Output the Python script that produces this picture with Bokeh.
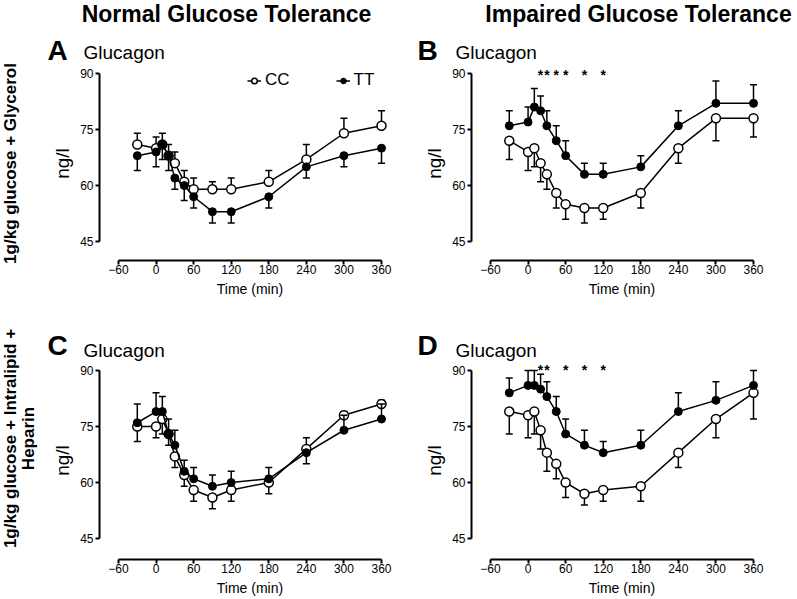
import numpy as np
from bokeh.plotting import figure
from bokeh.models import Range1d, Label, Legend, LegendItem, FixedTicker, ColumnDataSource
from bokeh.layouts import column, row
from bokeh.embed import file_html
from bokeh.resources import INLINE
from bokeh.core.properties import value

# ---------------- data ----------------
TIME = [-30, 0, 10, 20, 30, 45, 60, 90, 120, 180, 240, 300, 360]
X_TICKS = [-60, 0, 60, 120, 180, 240, 300, 360]
Y_TICKS = [45, 60, 75, 90]

# error values: magnitude of SEM, sign gives the drawn direction (+ up, - down)
A_CC = [71, 70, 71, 68, 66, 61, 59, 59, 59, 61, 67, 74, 76]
A_CC_ERR = [3, 3, 3, 3, 3, 3, 3, 2, 3, 3, 4, 4, 4]
A_TT = [68, 69, 71, 68, 62, 60, 57, 53, 53, 57, 65, 68, 70]
A_TT_ERR = [-4, -4, -4, -4, -3, -4, -3, -3, -3, -3, -3, -3, -4]

B_CC = [72, 69, 70, 66, 63, 58, 55, 54, 54, 58, 70, 78, 78]
B_CC_ERR = [-5, -5, -5, -5, -4, -4, -4, -4, -3, -4, -4, -6, -5]
B_TT = [76, 77, 81, 80, 76, 72, 68, 63, 63, 65, 76, 82, 82]
B_TT_ERR = [4, 4, 5, 4, 4, 4, 4, 3, 3, 3, 4, 6, 5]

C_CC = [75, 75, 77, 73, 67, 62, 58, 56, 58, 60, 69, 78, 81]
C_CC_ERR = [-4, -3, -4, -3, -3, -3, -3, -3, -3, -3, 3, 1, 1]
C_TT = [76, 79, 79, 73, 70, 63, 61, 59, 60, 61, 68, 74, 77]
C_TT_ERR = [5, 5, 4, 4, 4, 3, 3, 3, 3, 3, -3, 4, 4]

D_CC = [79, 78, 79, 74, 68, 65, 60, 57, 58, 59, 68, 77, 84]
D_CC_ERR = [-6, -6, -6, -5, -5, -4, -4, -3, -3, -4, -4, -5, -7]
D_TT = [84, 86, 86, 85, 83, 79, 73, 70, 68, 70, 79, 82, 86]
D_TT_ERR = [4, 4, 4, 4, 4, 4, 4, 4, 3, 4, 5, 5, 4]

B_STARS = [20, 30, 45, 60, 90, 120]
D_STARS = [20, 30, 60, 90, 120]

SERIES = ["CC", "TT"]
COL_TITLES = ["Normal Glucose Tolerance", "Impaired Glucose Tolerance"]
ROW_TITLES = [["1g/kg glucose + Glycerol"], ["1g/kg glucose + Intralipid +", "Heparin"]]
PANEL_LETTERS = ["A", "B", "C", "D"]
PANEL_TITLE = "Glucagon"
Y_LABEL = "ng/l"
X_LABEL = "Time (min)"

FONT = "Liberation Sans"
FW = 301                      # frame width (px), symmetric around the -60..360 axis
PX_M60, PX_360 = 19, 282      # x-pixel offsets of -60 and 360 from the frame left


def strip(w, h):
    """A plain figure whose frame is the whole strip; coordinates are its own pixels."""
    p = figure(width=w, height=h, x_range=Range1d(0, w), y_range=Range1d(h, 0),
               min_border=0, x_axis_type=None, y_axis_type=None,
               output_backend="svg", toolbar_location=None)
    p.outline_line_color = None
    p.grid.visible = False
    p.border_fill_color = "white"
    p.background_fill_color = "white"
    return p


def put(p, text, x, y, size, bold=False, align="left", angle=0.0):
    p.add_layout(Label(x=x, y=y, text=text, text_font=FONT, text_font_size=size,
                       text_font_style="bold" if bold else "normal",
                       text_align=align, text_baseline="middle", angle=angle,
                       text_color="black"))


class Panel:
    def __init__(self, width, bl, br, fh, bb, px90, px45):
        # px90 / px45: pixel rows (from frame top) of the 90 and 45 ticks
        ky = (px45 - px90) / 45.0
        y_top = 90 + px90 / ky
        y_bot = 45 - (fh - px45) / ky
        kx = (PX_360 - PX_M60) / 420.0
        x0 = -60 - PX_M60 / kx
        x1 = x0 + FW / kx
        self.ky = ky
        self.y_top = y_top
        self.p = figure(width=width, height=fh + bb,
                        min_border_left=bl, min_border_right=br,
                        min_border_top=0, min_border_bottom=bb,
                        x_range=Range1d(x0, x1), y_range=Range1d(y_bot, y_top),
                        output_backend="svg", toolbar_location=None)
        p = self.p
        p.outline_line_color = None
        p.grid.visible = False
        p.background_fill_color = "white"
        p.border_fill_color = "white"
        for ax in (p.xaxis[0], p.yaxis[0]):
            ax.axis_line_width = 2
            ax.axis_line_color = "black"
            ax.major_tick_line_width = 2
            ax.major_tick_line_color = "black"
            ax.major_tick_out = 4
            ax.major_tick_in = 0
            ax.minor_tick_line_color = None
            ax.major_label_text_font = FONT
            ax.major_label_text_font_size = "12px"
            ax.major_label_text_color = "black"
            ax.axis_label_text_font = FONT
            ax.axis_label_text_font_style = "normal"
            ax.axis_label_text_color = "black"
        p.xaxis.ticker = FixedTicker(ticks=X_TICKS)
        p.xaxis.bounds = (X_TICKS[0], X_TICKS[-1])
        p.xaxis.major_label_standoff = 0
        p.xaxis.axis_label = X_LABEL
        p.xaxis.axis_label_text_font_size = "14px"
        p.xaxis.axis_label_standoff = 4
        p.yaxis.ticker = FixedTicker(ticks=Y_TICKS)
        p.yaxis.bounds = (Y_TICKS[0], Y_TICKS[-1])
        p.yaxis.major_label_standoff = 2
        p.yaxis.axis_label = Y_LABEL
        p.yaxis.axis_label_text_font_size = "19px"
        p.yaxis.axis_label_standoff = 4

    def series(self, vals, errs, filled):
        p = self.p
        t = np.array(TIME, dtype=float)
        v = np.array(vals, dtype=float)
        hi = v + np.array(errs, dtype=float)
        src = ColumnDataSource(dict(t=t, v=v, hi=hi))
        p.segment(x0="t", y0="v", x1="t", y1="hi", source=src, line_width=1.5, line_color="black")
        p.scatter(x="t", y="hi", source=src, marker="dash", size=7, line_width=1.5, line_color="black")
        ln = p.line(x="t", y="v", source=src, line_width=1.5, line_color="black")
        if filled:
            mk = p.scatter(x="t", y="v", source=src, marker="circle", size=8,
                           fill_color="black", line_color="black", line_width=1)
        else:
            mk = p.scatter(x="t", y="v", source=src, marker="circle", size=9,
                           fill_color="white", line_color="black", line_width=1.5)
        return ln, mk

    def stars(self, times, px_from_top):
        y = self.y_top - px_from_top / self.ky
        src = ColumnDataSource(dict(x=times, y=[y] * len(times), s=["*"] * len(times)))
        self.p.text(x="x", y="y", text="s", source=src, text_font=value(FONT),
                    text_font_size="14px", text_font_style="bold",
                    text_align="center", text_baseline="middle", text_color="black")


# ---------------- layout ----------------
LEFT_W = 40
TOP_H, ROW1_H, MID_H, ROW2_H = 66, 233, 62, 237

pa = Panel(360, 59, 0, 195, 38, 7, 176)
pb = Panel(396, 71, 24, 195, 38, 7, 176)
pc = Panel(360, 59, 0, 199, 38, 9, 178)
pd = Panel(396, 71, 24, 199, 38, 9, 178)

panels = [(pa, A_CC, A_CC_ERR, A_TT, A_TT_ERR), (pb, B_CC, B_CC_ERR, B_TT, B_TT_ERR),
          (pc, C_CC, C_CC_ERR, C_TT, C_TT_ERR), (pd, D_CC, D_CC_ERR, D_TT, D_TT_ERR)]
legend_rs = None
for i, (pn, cc, cce, tt, tte) in enumerate(panels):
    r_cc = pn.series(cc, cce, filled=False)
    r_tt = pn.series(tt, tte, filled=True)
    if i == 0:
        legend_rs = (r_cc, r_tt)

leg = Legend(items=[LegendItem(label=SERIES[0], renderers=list(legend_rs[0])),
                    LegendItem(label=SERIES[1], renderers=list(legend_rs[1]))],
             location=(148, 170), orientation="horizontal",
             glyph_width=14, glyph_height=17, label_height=17, label_standoff=4,
             spacing=46, padding=0, margin=0,
             label_text_font=FONT, label_text_font_size="17px", label_text_color="black",
             border_line_color=None, background_fill_alpha=0)
pa.p.add_layout(leg)

pb.stars(B_STARS, 8.2)
pd.stars(D_STARS, 8.2)

# strips holding the texts that lie outside the plotting frames
left = strip(LEFT_W, TOP_H + ROW1_H + MID_H + ROW2_H)
top = strip(796 - LEFT_W, TOP_H)
mid = strip(796 - LEFT_W, MID_H)

put(top, COL_TITLES[0], 226 - LEFT_W, 13.5, "23px", bold=True, align="center")
put(top, COL_TITLES[1], 638 - LEFT_W, 13.5, "23px", bold=True, align="center")
put(top, PANEL_LETTERS[0], 47 - LEFT_W, 50.3, "28px", bold=True)
put(top, PANEL_TITLE, 83 - LEFT_W, 51.5, "19px")
put(top, PANEL_LETTERS[1], 417 - LEFT_W, 50.3, "28px", bold=True)
put(top, PANEL_TITLE, 455 - LEFT_W, 51.5, "19px")

MID_TOP = TOP_H + ROW1_H
put(mid, PANEL_LETTERS[2], 47 - LEFT_W, 345 - MID_TOP, "28px", bold=True)
put(mid, PANEL_TITLE, 83 - LEFT_W, 349.5 - MID_TOP, "19px")
put(mid, PANEL_LETTERS[3], 417 - LEFT_W, 345 - MID_TOP, "28px", bold=True)
put(mid, PANEL_TITLE, 455 - LEFT_W, 349.5 - MID_TOP, "19px")

put(left, ROW_TITLES[0][0], 10, 163, "17px", bold=True, align="center", angle=np.pi / 2)
put(left, ROW_TITLES[1][0], 10, 438, "17px", bold=True, align="center", angle=np.pi / 2)
put(left, ROW_TITLES[1][1], 28, 438, "17px", bold=True, align="center", angle=np.pi / 2)

layout = row(left,
             column(top, row(pa.p, pb.p, spacing=0), mid, row(pc.p, pd.p, spacing=0), spacing=0),
             spacing=0)
open("out.html", "w").write(file_html(layout, INLINE))
